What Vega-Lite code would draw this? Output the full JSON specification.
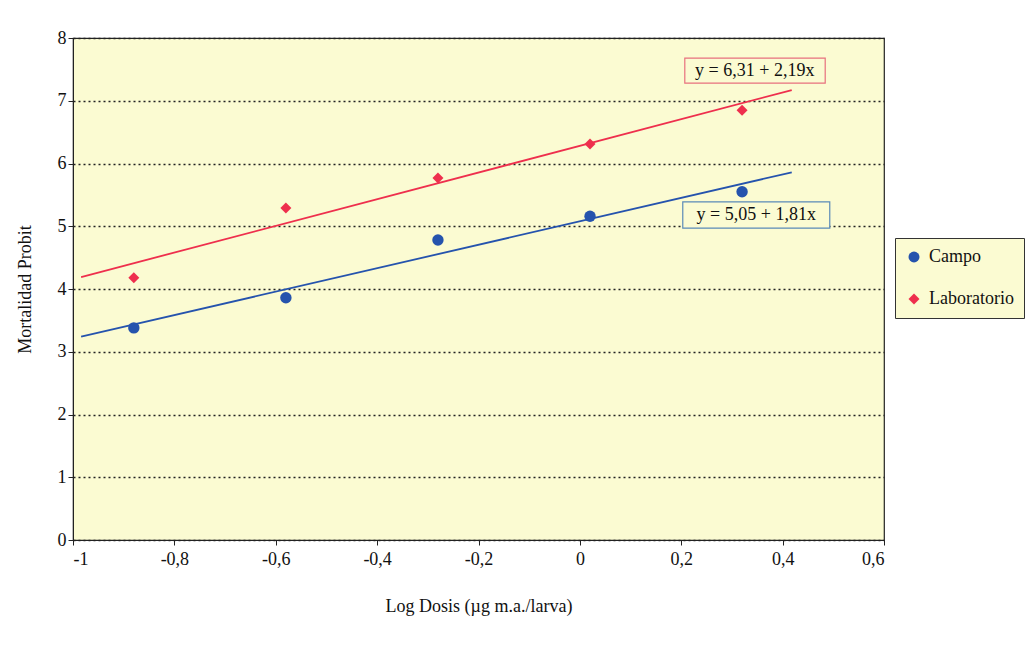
{
  "$schema": "https://vega.github.io/schema/vega-lite/v6.json",
  "autosize": "none",
  "width": 811,
  "height": 502,
  "padding": {"left": 73, "top": 38, "right": 144, "bottom": 106},
  "background": "white",
  "config": {
    "font": "Liberation Serif",
    "view": {"fill": "#fbfbd2", "stroke": "#222222", "strokeWidth": 1.2},
    "axis": {"labelFont": "Liberation Serif", "titleFont": "Liberation Serif", "labelFontSize": 18, "titleFontSize": 18, "titleFontWeight": "normal", "labelColor": "#111", "titleColor": "#111", "domainColor": "#222", "tickColor": "#222"},
    "legend": {"labelFont": "Liberation Serif", "labelFontSize": 18, "labelColor": "#111"}
  },
  "datasets": {
    "points": [
      {"x": -0.88, "y": 3.38, "serie": "Campo"},
      {"x": -0.58, "y": 3.86, "serie": "Campo"},
      {"x": -0.28, "y": 4.78, "serie": "Campo"},
      {"x": 0.02, "y": 5.16, "serie": "Campo"},
      {"x": 0.32, "y": 5.55, "serie": "Campo"},
      {"x": -0.88, "y": 4.18, "serie": "Laboratorio"},
      {"x": -0.58, "y": 5.29, "serie": "Laboratorio"},
      {"x": -0.28, "y": 5.77, "serie": "Laboratorio"},
      {"x": 0.02, "y": 6.31, "serie": "Laboratorio"},
      {"x": 0.32, "y": 6.85, "serie": "Laboratorio"}
    ],
    "lines": [
      {"x": -0.984, "y": 3.24, "serie": "Campo"},
      {"x": 0.418, "y": 5.86, "serie": "Campo"},
      {"x": -0.984, "y": 4.19, "serie": "Laboratorio"},
      {"x": 0.418, "y": 7.17, "serie": "Laboratorio"}
    ],
    "labels": [
      {"x1": 0.207, "x2": 0.484, "y1": 7.28, "y2": 7.68, "xc": 0.345, "yc": 7.48, "serie": "Laboratorio", "label": "y = 6,31 + 2,19x"},
      {"x1": 0.203, "x2": 0.493, "y1": 4.97, "y2": 5.39, "xc": 0.348, "yc": 5.18, "serie": "Campo", "label": "y = 5,05 + 1,81x"}
    ]
  },
  "layer": [
    {
      "data": {"name": "lines"},
      "mark": {"type": "line", "strokeWidth": 1.8},
      "encoding": {
        "x": {"field": "x", "type": "quantitative", "scale": {"domain": [-1, 0.6], "nice": false, "zero": false},
          "axis": {"values": [-1, -0.8, -0.6, -0.4, -0.2, 0, 0.2, 0.4, 0.6], "labelExpr": "replace(toString(datum.value), '.', ',')", "labelFont": "Liberation Serif", "titleFont": "Liberation Serif", "grid": false, "tickSize": 5, "labelPadding": 5, "title": "Log Dosis (µg m.a./larva)", "titlePadding": 29}},
        "y": {"field": "y", "type": "quantitative", "scale": {"domain": [0, 8], "nice": false},
          "axis": {"values": [0, 1, 2, 3, 4, 5, 6, 7, 8], "format": "d", "labelFont": "Liberation Serif", "titleFont": "Liberation Serif", "grid": true, "gridColor": "#222", "gridDash": [2, 3], "gridWidth": 1.3, "tickSize": 5, "labelPadding": 2, "title": "Mortalidad Probit", "titlePadding": 23}},
        "color": {"field": "serie", "type": "nominal", "scale": {"domain": ["Campo", "Laboratorio"], "range": ["#2553ad", "#ee2f4d"]}},
        "detail": {"field": "serie"}
      }
    },
    {
      "data": {"name": "points"},
      "mark": {"type": "point", "filled": true, "opacity": 1},
      "encoding": {
        "x": {"field": "x", "type": "quantitative"},
        "y": {"field": "y", "type": "quantitative"},
        "color": {"field": "serie", "type": "nominal",
          "legend": {"title": null, "orient": "none", "legendX": 822, "legendY": 200, "fillColor": "#fbfbd2", "strokeColor": "#333", "padding": 10, "rowPadding": 24, "symbolSize": 120, "labelOffset": 6, "symbolStrokeWidth": 0, "labelFont": "Liberation Serif", "labelFontSize": 18}},
        "shape": {"field": "serie", "type": "nominal", "scale": {"domain": ["Campo", "Laboratorio"], "range": ["circle", "diamond"]}},
        "size": {"condition": {"test": "datum.serie === 'Campo'", "value": 130}, "value": 120}
      }
    },
    {
      "data": {"name": "labels"},
      "transform": [{"filter": "datum.serie === 'Laboratorio'"}],
      "mark": {"type": "rect", "fill": "#fbfbd2", "stroke": "#e8707e", "strokeWidth": 1.2},
      "encoding": {
        "x": {"field": "x1", "type": "quantitative"},
        "x2": {"field": "x2"},
        "y": {"field": "y1", "type": "quantitative"},
        "y2": {"field": "y2"}
      }
    },
    {
      "data": {"name": "labels"},
      "transform": [{"filter": "datum.serie === 'Campo'"}],
      "mark": {"type": "rect", "fill": "#fbfbd2", "stroke": "#5a8ab8", "strokeWidth": 1.2},
      "encoding": {
        "x": {"field": "x1", "type": "quantitative"},
        "x2": {"field": "x2"},
        "y": {"field": "y1", "type": "quantitative"},
        "y2": {"field": "y2"}
      }
    },
    {
      "data": {"name": "labels"},
      "mark": {"type": "text", "font": "Liberation Serif", "fontSize": 18, "color": "#111", "baseline": "middle", "align": "center"},
      "encoding": {
        "x": {"field": "xc", "type": "quantitative"},
        "y": {"field": "yc", "type": "quantitative"},
        "text": {"field": "label"}
      }
    }
  ]
}
